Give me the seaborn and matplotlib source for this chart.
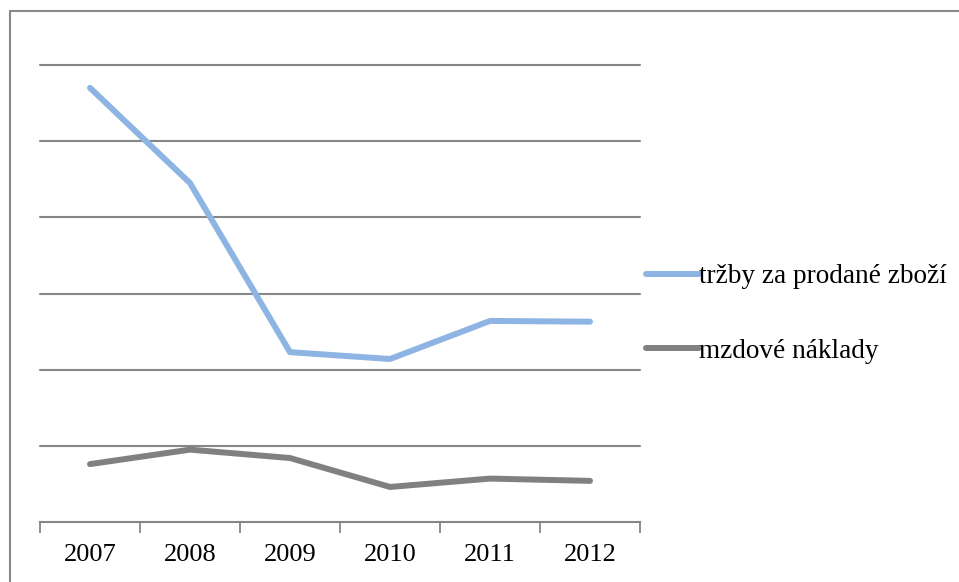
import matplotlib
matplotlib.use("Agg")
import matplotlib.pyplot as plt
from matplotlib.patches import Rectangle
import pandas as pd
import seaborn as sns

years = ["2007", "2008", "2009", "2010", "2011", "2012"]
trzby = [570, 445, 223, 214, 264, 263]
mzdy = [76, 95, 84, 46, 57, 54]
series_names = ["tržby za prodané zboží", "mzdové náklady"]
series_colors = ["#8EB4E3", "#808080"]

df = pd.DataFrame({
    "rok": years * 2,
    "hodnota": trzby + mzdy,
    "rada": [series_names[0]] * len(years) + [series_names[1]] * len(years),
})
df["pozice"] = df["rok"].map({y: i for i, y in enumerate(years)})

sns.set_style("white")
plt.rcParams["font.family"] = ["Liberation Serif", "DejaVu Serif"]
plt.rcParams["text.color"] = "black"
plt.rcParams["xtick.color"] = "black"

W, H = 959, 582
fig = plt.figure(figsize=(W / 100, H / 100), dpi=100)
ax = fig.add_axes([40 / W, (H - 522) / H, 600 / W, (522 - 65) / H])

grid_color = "#868686"
for yv in range(100, 601, 100):
    ax.axhline(yv, color=grid_color, lw=1.5, zorder=1, clip_on=False)

sns.lineplot(data=df, x="pozice", y="hodnota", hue="rada",
             hue_order=series_names, palette=series_colors,
             lw=4.3, solid_capstyle="round", ax=ax, zorder=3, legend=True)

ax.set_xlim(-0.5, len(years) - 0.5)
ax.set_ylim(0, 600)
ax.set_xticks(range(len(years)))
ax.set_xticklabels(years, fontsize=19, color="black")
ax.set_xticks([i - 0.5 for i in range(len(years) + 1)], minor=True)
ax.tick_params(axis="x", which="both", bottom=True)
ax.tick_params(axis="x", which="major", length=0, pad=16)
ax.tick_params(axis="x", which="minor", length=8, width=1.3,
               color=grid_color, direction="out")
ax.set_yticks([])
ax.set_xlabel("")
ax.set_ylabel("")
for side in ["top", "right", "left"]:
    ax.spines[side].set_visible(False)
ax.spines["bottom"].set_color(grid_color)
ax.spines["bottom"].set_linewidth(1.5)

handles, labels = ax.get_legend_handles_labels()
leg = ax.legend(handles, labels, loc="center left",
                bbox_to_anchor=(646 / W, 1 - 314 / H), bbox_transform=fig.transFigure,
                frameon=False, fontsize=19.6, handlelength=1.95, handletextpad=0.0,
                labelspacing=1.83, borderaxespad=0, borderpad=0)
for t in leg.get_texts():
    t.set_color("black")

fig.patches.append(Rectangle((10 / W, -0.1), 1.2, 1 - 11 / H + 0.1,
                             transform=fig.transFigure, fill=False,
                             edgecolor="#8a8a8a", lw=1.5, zorder=0))

fig.savefig("out.png", dpi=100)
